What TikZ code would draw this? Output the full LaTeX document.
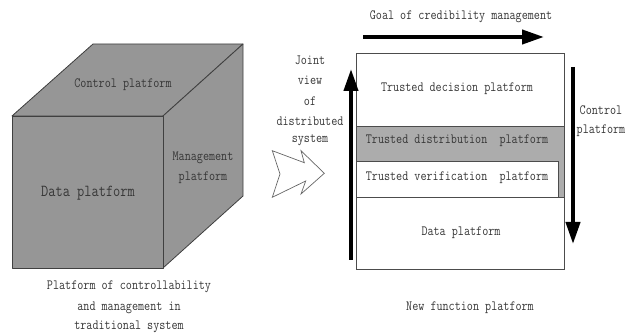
\documentclass[tikz,border=0pt]{standalone}
\usepackage{graphicx}
\usetikzlibrary{arrows.meta}
\definecolor{cubegray}{RGB}{150,150,150}
\definecolor{bandgray}{RGB}{172,172,172}
\definecolor{txt}{RGB}{55,55,55}
\newcommand{\stx}[1]{\scalebox{1}[1.2]{#1}}
\begin{document}
\begin{tikzpicture}[x=1pt,y=-1pt,
  lbl/.style={text=txt,font=\ttfamily\fontsize{11.8}{13}\selectfont,inner sep=0pt,align=center},
  big/.style={text=txt,font=\ttfamily\fontsize{14}{16}\selectfont,inner sep=0pt},
  face/.style={fill=cubegray,draw=black!75,line width=0.8pt,line join=round},
  layer/.style={draw=black!70,line width=0.7pt,minimum width=208pt,inner sep=0pt},
  fat/.style={line width=4pt,-{Triangle[length=22pt,width=14pt]}}
]
\useasboundingbox (0,0) rectangle (626,336);
% cube
\path[face] (12,116) -- (163,116) -- (243,44) -- (93,44) -- cycle;
\path[face] (163,116) -- (243,44) -- (243,196) -- (163,268) -- cycle;
\path[face] (12,116) rectangle (163,268);
\node[lbl] (ctrl) at (123,85) {\stx{Control platform}};
\node[big] (data1) at (88,193) {\stx{Data platform}};
\node[lbl] (mgmt1) at (203,158) {\stx{Management}};
\node[lbl] (mgmt2) at (203,178) {\stx{platform}};
\node[lbl] (cap1) at (129,287) {\stx{Platform of controllability}};
\node[lbl] (cap2) at (129,308) {\stx{and management in}};
\node[lbl] (cap3) at (129,327) {\stx{traditional system}};
% zigzag arrow
\draw[black!60,line width=0.7pt,line join=miter,fill=white]
  (272.3,150.7) -- (304.3,162.7) -- (301,150.7) -- (324.3,173.3) -- (301,194)
  -- (305.7,181) -- (272.3,197.3) -- (280,174) -- cycle;
\node[lbl] (j1) at (310,60) {\stx{Joint}};
\node[lbl] (j2) at (310,80) {\stx{view}};
\node[lbl] (j3) at (310,101) {\stx{of}};
\node[lbl] (j4) at (310,121) {\stx{distributed}};
\node[lbl] (j5) at (310,140) {\stx{system}};
% layered box
\node[layer,minimum height=73pt] (dec) at (460,89.5) {};
\node[layer,minimum height=71pt,fill=bandgray] (dist) at (460,161.5) {};
\node[layer,minimum height=72pt] (datab) at (460,233) {};
\node[draw=black!70,line width=0.7pt,fill=white,minimum width=202pt,minimum height=36pt,inner sep=0pt] (ver) at (457,179) {};
\draw[black!70,line width=0.7pt] (356,53) rectangle (564,269);
\node[lbl] (tdec) at (457,89) {\stx{Trusted decision platform}};
\node[lbl] (tdist) at (457,141) {\stx{Trusted distribution\ \ platform}};
\node[lbl] (tver) at (457,178) {\stx{Trusted verification\ \ platform}};
\node[lbl] (tdata) at (461,233) {\stx{Data platform}};
\node[lbl] (newf) at (470,308) {\stx{New function platform}};
\node[lbl] (goal) at (461,17) {\stx{Goal of credibility management}};
\node[lbl] (cp1) at (601,110) {\stx{Control}};
\node[lbl] (cp2) at (601,131) {\stx{platform}};
% fat arrows
\coordinate (g0) at (363,37); \coordinate (g1) at (544,37);
\draw[fat] (g0) -- (g1);
\coordinate (u0) at (351,260); \coordinate (u1) at (351,69);
\draw[fat] (u0) -- (u1);
\coordinate (d0) at (573,67); \coordinate (d1) at (573,244);
\draw[fat] (d0) -- (d1);
\end{tikzpicture}
\end{document}
